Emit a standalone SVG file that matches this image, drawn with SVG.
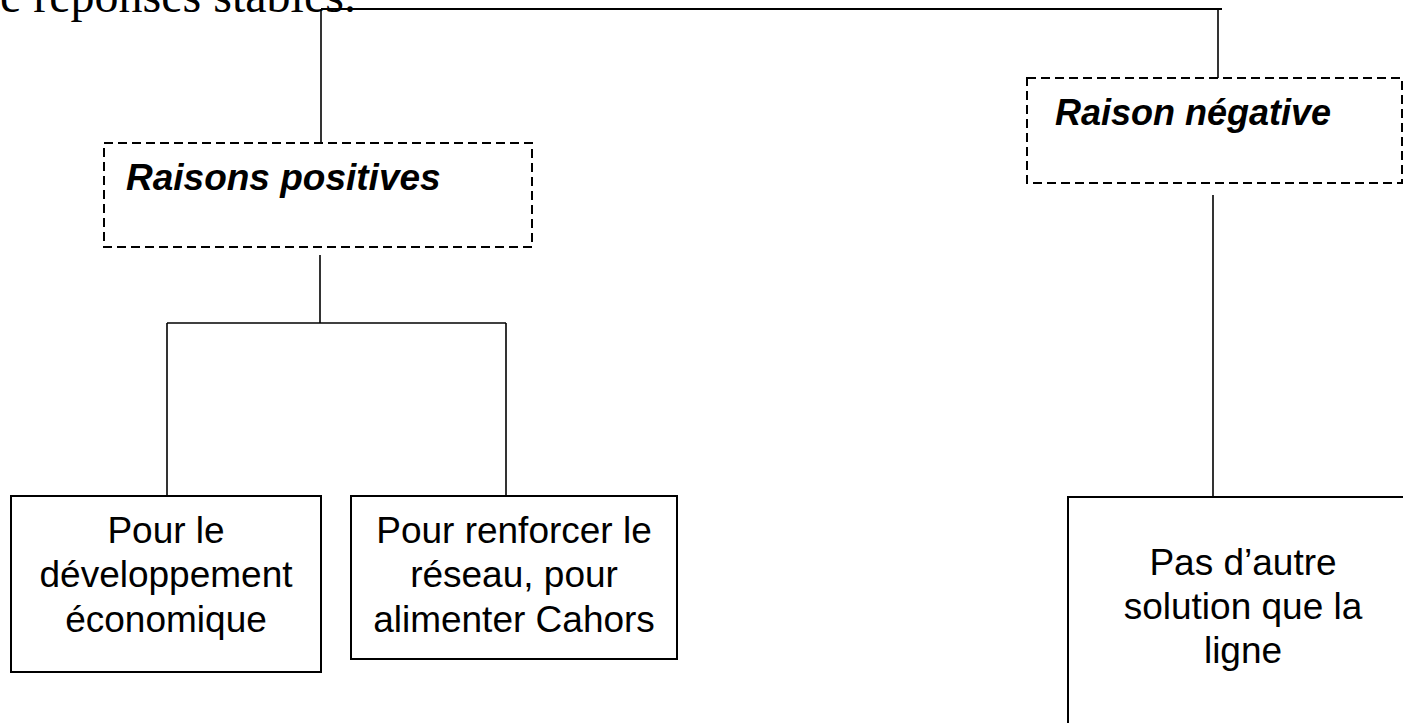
<svg xmlns="http://www.w3.org/2000/svg" width="1403" height="723" viewBox="0 0 1403 723">
<style>
.bg{fill:#fff}
.dash{fill:none;stroke:#000;stroke-width:2;stroke-dasharray:9 5}
.box{fill:#fff;stroke:#000;stroke-width:2}
.ln{fill:none;stroke:#000;stroke-width:1.6}
.hd{font-family:"Liberation Sans",Arial,sans-serif;font-size:37px;font-weight:bold;font-style:italic;fill:#000}
.tx{font-family:"Liberation Sans",Arial,sans-serif;font-size:37px;fill:#000;text-anchor:middle}
.doc{font-family:"Liberation Serif","Times New Roman",serif;font-size:48px;fill:#000}
</style>
<rect class="bg" x="0" y="0" width="1403" height="723"/>
<text class="doc" x="-24" y="12">de réponses stables.</text>
<g id="connectors">
<line class="ln" x1="321" y1="9" x2="1222" y2="9" style="stroke-width:2.2"/>
<line class="ln" x1="321" y1="9" x2="321" y2="143"/>
<line class="ln" x1="1218" y1="9" x2="1218" y2="78"/>
<line class="ln" x1="320" y1="255" x2="320" y2="323"/>
<line class="ln" x1="167" y1="323" x2="506" y2="323"/>
<line class="ln" x1="167" y1="323" x2="167" y2="496"/>
<line class="ln" x1="506" y1="323" x2="506" y2="496"/>
<line class="ln" x1="1213" y1="195" x2="1213" y2="497"/>
</g>
<g id="node-positives">
<rect class="dash" x="104" y="143" width="428" height="104"/>
<text class="hd" x="126" y="190">Raisons positives</text>
</g>
<g id="node-negative">
<rect class="dash" x="1027" y="78" width="375" height="105"/>
<text class="hd" x="1055" y="125" style="font-size:36px">Raison négative</text>
</g>
<g id="node-developpement">
<rect class="box" x="11" y="496" width="310" height="176"/>
<text class="tx" x="166" y="543">Pour le</text>
<text class="tx" x="166" y="587">développement</text>
<text class="tx" x="166" y="632">économique</text>
</g>
<g id="node-reseau">
<rect class="box" x="351" y="496" width="326" height="163"/>
<text class="tx" x="514" y="543">Pour renforcer le</text>
<text class="tx" x="514" y="587">réseau, pour</text>
<text class="tx" x="514" y="632">alimenter Cahors</text>
</g>
<g id="node-solution">
<rect class="box" x="1068" y="497" width="360" height="240"/>
<text class="tx" x="1243" y="575">Pas d’autre</text>
<text class="tx" x="1243" y="619">solution que la</text>
<text class="tx" x="1243" y="663">ligne</text>
</g>
</svg>
